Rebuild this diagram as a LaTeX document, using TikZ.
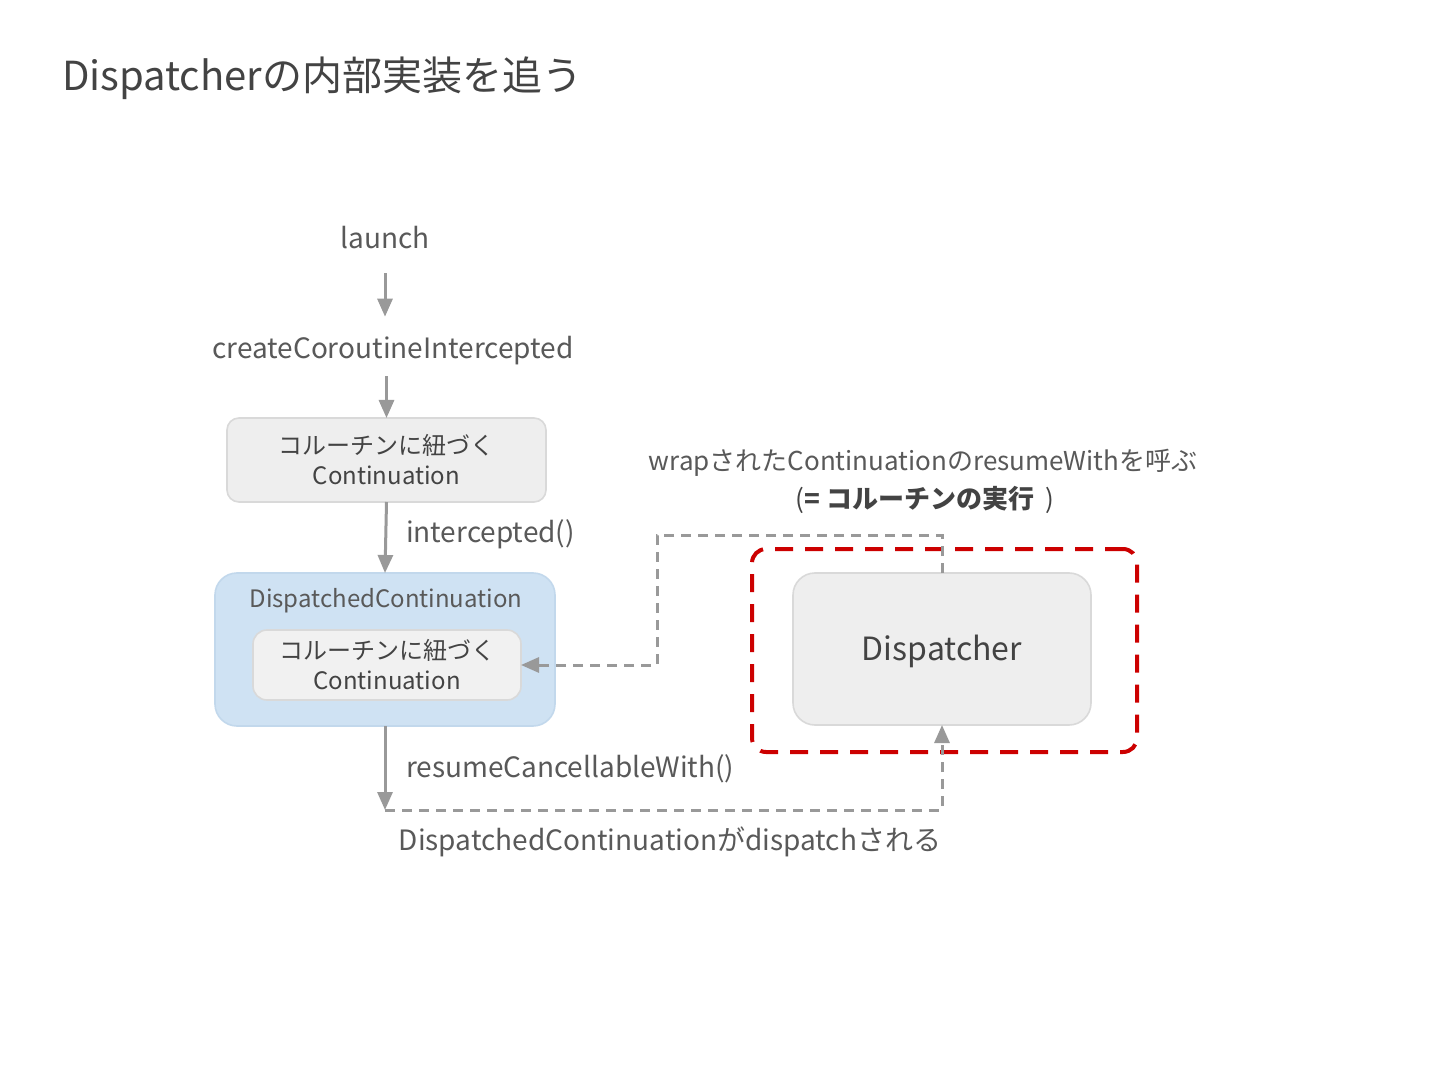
\documentclass[tikz,border=0pt]{standalone}
\usepackage{fontspec}
\setmainfont{Noto Sans CJK JP}
\usetikzlibrary{arrows.meta}
\definecolor{txt}{HTML}{434343}
\definecolor{lbl}{HTML}{595959}
\definecolor{arr}{HTML}{999999}
\definecolor{boxfill}{HTML}{EEEEEE}
\definecolor{boxline}{HTML}{D9D9D9}
\definecolor{bluefill}{HTML}{CFE2F3}
\definecolor{blueline}{HTML}{C2D8EC}
\definecolor{redd}{HTML}{CC0000}
\begin{document}
\begin{tikzpicture}[x=0.5pt,y=-0.5pt,
  every node/.style={inner sep=0pt,outer sep=0pt},
  plain/.style={text=lbl,font=\fontsize{14pt}{17pt}\selectfont},
  graybox/.style={draw=boxline,line width=0.8pt,fill=boxfill,rounded corners=6pt,align=center,text=txt,font=\fontsize{12pt}{15pt}\selectfont},
  solidarr/.style={draw=arr,line width=1.5pt,-{Triangle[length=9pt,width=7.5pt]}},
  dasharr/.style={draw=arr,line width=1.5pt,dash pattern=on 5pt off 3.5pt,-{Triangle[length=9pt,width=7.5pt]}}]
\fill[white] (0,0) rectangle (1440,1080);
\useasboundingbox (0,0) rectangle (1440,1080);

\node[anchor=west,text=txt,font=\fontsize{20pt}{24pt}\selectfont] (title) at (62,78) {Dispatcherの内部実装を追う};

\node[plain] (launch) at (385,238) {launch};
\node[plain] (create) at (393,351) {createCoroutineIntercepted};
\node[graybox,minimum width=159.5pt,minimum height=42pt] (box1) at (386.5,460) {コルーチンに紐づく\\Continuation};

\node[draw=blueline,line width=0.8pt,fill=bluefill,rounded corners=11pt,minimum width=170pt,minimum height=76.5pt] (dc) at (385,649.5) {};
\node[text=lbl,font=\fontsize{12pt}{15pt}\selectfont] (dctitle) at (386,601) {DispatchedContinuation};
\node[graybox,fill=boxfill!80!white,minimum width=134pt,minimum height=35pt,rounded corners=7pt] (inner) at (387,665) {コルーチンに紐づく\\Continuation};

\node[draw=boxline,line width=0.8pt,fill=boxfill,rounded corners=11pt,minimum width=149pt,minimum height=76pt] (disp) at (942,649) {};
\node[text=txt,font=\fontsize{16pt}{20pt}\selectfont] (disptext) at (942,651) {Dispatcher};
\node[draw=redd,line width=2pt,dash pattern=on 9pt off 6pt,rounded corners=7pt,minimum width=192.5pt,minimum height=101.5pt] (red) at (944.5,650.5) {};

\node[text=lbl,font=\fontsize{13pt}{16pt}\selectfont] (wrap) at (923,463) {wrapされたContinuationのresumeWithを呼ぶ};
\node[text=txt,font=\fontsize{13pt}{16pt}\selectfont] (wrap2) at (925,500) {(\textbf{= コルーチンの実行}\ \ )};

\node[plain,anchor=west] (intc) at (406,534) {intercepted()};
\node[plain,anchor=west] (rcw) at (406,769) {resumeCancellableWith()};
\node[plain] (dispd) at (670,842) {DispatchedContinuationがdispatchされる};

\coordinate (c1) at (657,535);
\coordinate (c2) at (385,810);

\draw[solidarr,shorten <=12pt,shorten >=10pt] (launch.south) -- (launch.south |- create.north);
\draw[solidarr,shorten <=5.5pt] (box1.north |- create.south) -- (box1.north);
\draw[solidarr] (box1.south) -- (dc.north);
\draw[solidarr] (dc.south) -- (c2);
\draw[dasharr] (c2) -| (disp.south);
\draw[dasharr] (disp.north) -- (disp.north |- c1) -- (c1) |- (inner.east);
\end{tikzpicture}
\end{document}
